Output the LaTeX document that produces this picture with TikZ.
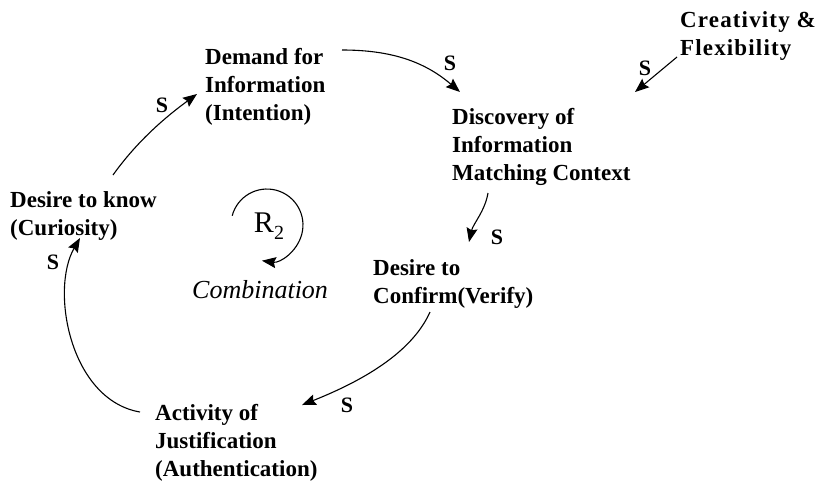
\documentclass[tikz,border=0pt]{standalone}
\usepackage{fontspec}
\setmainfont{Liberation Serif}
\usetikzlibrary{arrows.meta}
\begin{document}
\begin{tikzpicture}[x=1pt,y=-1pt,
  lbl/.style={font=\bfseries\fontsize{23}{28}\selectfont, align=left, inner sep=0pt, anchor=base west},
  sign/.style={font=\bfseries\fontsize{22}{26}\selectfont, inner sep=0pt},
  link/.style={line width=1.1pt, -{Stealth[length=14pt,width=11pt,inset=2pt]}}]
  \useasboundingbox (0,0) rectangle (817,483);

  % variables of the loop (placed by the baseline of their last line)
  \node[lbl] (know)   at (10,235)  {Desire to know\\(Curiosity)};
  \node[lbl] (demand) at (205,120) {Demand for\\Information\\(Intention)};
  \node[lbl] (disc)   at (452,180) {Discovery of\\Information\\Matching Context};
  \node[lbl] (conf)   at (373,303) {Desire to\\Confirm(Verify)};
  \node[lbl] (act)    at (155,476) {Activity of\\Justification\\(Authentication)};
  \node[lbl, font=\bfseries\fontsize{23}{28}\selectfont\addfontfeatures{LetterSpace=5}] (crea) at (680,55) {Creativity \&\\Flexibility};

  % loop identifier
  \node[font=\fontsize{30}{32}\selectfont, inner sep=0pt] (rtwo) at (269,226)
     {R\raisebox{-7pt}{\fontsize{20}{22}\selectfont 2}};
  \node[font=\itshape\fontsize{26}{30}\selectfont, inner sep=0pt, anchor=base west] (comb) at (192,298) {Combination};
  \draw[link] ([shift={(-36.8,-10.3)}]rtwo.center) arc[start angle=195, end angle=458, radius=36];

  % causal links
  \draw[link] ([shift={(103,-60)}]know.base west)
     .. controls +(25,-35) and +(-30,22) .. ([shift={(-8,-26)}]demand.base west);
  \draw[link] ([shift={(137,-70)}]demand.base west)
     .. controls +(50,0) and +(-35,-30) .. ([shift={(8,-88)}]disc.base west);
  \draw[link] ([shift={(-3,2)}]crea.base west) -- ([shift={(183,-88)}]disc.base west);
  \draw[link] ([shift={(36,13)}]disc.base west)
     .. controls +(-3,18) and +(4,-18) .. ([shift={(96,-61)}]conf.base west);
  \draw[link] ([shift={(57,9)}]conf.base west)
     .. controls +(-20,45) and +(50,-20) .. ([shift={(147,-71)}]act.base west);
  \draw[link] ([shift={(-15,-64)}]act.base west)
     .. controls +(-70,-12) and +(-30,52) .. ([shift={(70,3)}]know.base west);

  % polarity signs
  \node[sign] (sa) at (162,105) {S};
  \node[sign] (sb) at (450,63)  {S};
  \node[sign] (sc) at (645,68)  {S};
  \node[sign] (sd) at (497,237) {S};
  \node[sign] (se) at (347,405) {S};
  \node[sign] (sf) at (53,262)  {S};
\end{tikzpicture}
\end{document}
